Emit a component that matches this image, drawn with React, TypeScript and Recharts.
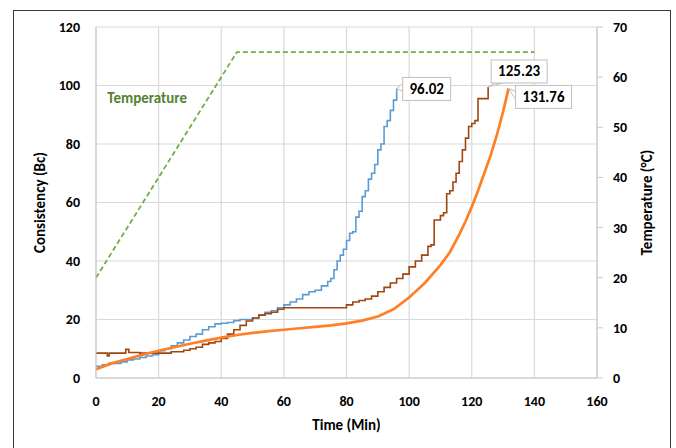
import React from 'react';
import { LineChart, Line, XAxis, YAxis, CartesianGrid, ReferenceDot } from 'recharts';

// time (min) / consistency (Bc) samples
const sampleA = [
  [0, 4], [2, 4.5], [4, 5], [6, 5], [8, 5.5], [10, 6.2], [12, 6.5], [14, 7], [16, 7.5], [18, 8],
  [20, 9.3], [22, 10], [24, 11], [26, 12], [28, 13], [30, 14.2], [32, 15], [34, 16.5], [36, 17.5],
  [38, 18.5], [40, 18.7], [42, 19], [44, 19.6], [46, 20], [48, 20], [50, 20.5], [52, 21.5],
  [54, 22.5], [56, 23], [58, 24], [60, 25], [62, 26], [64, 27], [66, 28.5], [68, 29.5], [70, 30],
  [72, 31.5], [74, 33], [75, 34], [76, 37], [77, 40], [78, 42], [79, 44], [80, 47], [81, 49.5],
  [82, 50], [83, 55], [84, 57], [85, 62], [86, 64], [87, 68], [88, 70], [89, 73], [90, 78],
  [91, 80], [92, 86], [93, 88], [94, 91.5], [95, 95], [96.02, 99],
];
const sampleB = [
  [0, 8.5], [2, 8.5], [3, 8.5], [3.6, 7.5], [4.2, 8.5], [8, 8.5], [9.5, 9.8], [10.5, 8.7], [14, 8.5],
  [20, 8.5], [22, 8.5], [24, 9], [26, 9], [28, 9.5], [30, 10], [32, 10.5], [34, 11.5], [36, 12],
  [38, 12.5], [40, 13.5], [42, 15], [44, 16.5], [46, 18], [48, 19.5], [50, 20.5], [52, 21.5],
  [54, 22], [56, 22.5], [58, 23.5], [60, 24], [79, 24], [80, 25], [82, 26], [84, 26.5], [86, 27],
  [88, 28], [90, 29.5], [92, 31], [94, 32.5], [96, 34], [98, 35.5], [100, 38], [102, 40],
  [104, 42], [106, 45], [107, 45.5], [108, 54], [110, 55.5], [111, 56.5], [112, 63], [113, 64],
  [114, 67], [115, 70], [116, 74], [117, 78], [118, 82], [119, 86], [120, 87], [121, 88],
  [122, 95.5], [124, 95.5], [125.23, 99.5],
];
const sampleC = [
  [0, 3], [5, 5], [10, 6.5], [15, 8], [20, 9.3], [25, 10.5], [30, 11.7], [35, 12.8], [40, 13.8],
  [45, 14.7], [50, 15.4], [55, 16], [60, 16.5], [65, 17], [70, 17.5], [75, 18], [80, 18.7],
  [85, 19.6], [90, 21], [95, 23.5], [100, 27.5], [105, 32.5], [110, 38.6], [113, 43], [116, 49],
  [118, 53.5], [120, 58.5], [122, 64], [124, 70], [126, 76], [128, 83], [130, 91], [131.76, 99],
];
// time (min) / temperature (°C)
const tempProfile = [[0, 20], [45, 65], [140, 65]];

const calloutText = ['96.02', '125.23', '131.76'];

const xTicks = [0, 20, 40, 60, 80, 100, 120, 140, 160];
const leftTicks = [0, 20, 40, 60, 80, 100, 120];
const rightTicks = [0, 10, 20, 30, 40, 50, 60, 70];

const toRows = (arr: number[][]) => arr.map(([t, v]) => ({ t, v }));

const FONT = 'Carlito, Lato, sans-serif';
const tickStyle = { fill: '#000', fontSize: 14, fontWeight: 700, fontFamily: FONT };

const makeCallout = (count: number, text: string, dx: number, dy: number, w: number) => (props: any) => {
  const { x, y, index } = props;
  if (index !== count - 1) return null;
  const bx = x + dx;
  const by = y + dy;
  const h = 23;
  const px = dx > 4 ? bx : bx + 4;
  const py = dy < -15 ? by + h : by + 6;
  return (
    <g>
      <polygon points={`${x},${y} ${px},${py} ${px + (dy < -15 ? 8 : 0)},${py + (dy < -15 ? 0 : 8)}`} fill="#fff" stroke="#bfbfbf" />
      <rect x={bx} y={by} width={w} height={h} fill="#fff" stroke="#bfbfbf" />
      <text x={bx + w / 2} y={by + h / 2 + 5} textAnchor="middle" fontSize={15} fontWeight={700} fontFamily={FONT} fill="#000">
        {text}
      </text>
    </g>
  );
};

export default function App() {
  return (
    <div style={{ position: 'absolute', left: 0, top: 0, width: 676, height: 448, overflow: 'hidden', background: '#fff' }}>
      <div style={{ position: 'absolute', left: 13, top: 10, width: 656, height: 470, border: '1.5px solid #3a3a3a' }} />
      <LineChart
        width={676}
        height={448}
        margin={{ top: 27, right: 19, left: 11, bottom: 12 }}
        style={{ position: 'absolute', left: 0, top: 0 }}
      >
        <CartesianGrid yAxisId="left" stroke="#d9d9d9" strokeWidth={1.2} />
        <XAxis
          dataKey="t"
          type="number"
          domain={[0, 160]}
          ticks={xTicks}
          height={58}
          tickLine={false}
          tickMargin={12}
          axisLine={{ stroke: '#c8c8c8' }}
          tick={tickStyle}
          label={{ value: 'Time (Min)', position: 'insideBottom', offset: 6, style: { ...tickStyle, fontSize: 15 } }}
        />
        <YAxis
          yAxisId="left"
          width={85}
          domain={[0, 120]}
          ticks={leftTicks}
          tickLine={false}
          tickMargin={10}
          axisLine={{ stroke: '#c8c8c8' }}
          tick={tickStyle}
          label={{ value: 'Consistency (Bc)', angle: -90, position: 'insideLeft', offset: 29, style: { ...tickStyle, fontSize: 15, textAnchor: 'middle' } }}
        />
        <YAxis
          yAxisId="right"
          orientation="right"
          width={60}
          domain={[0, 70]}
          ticks={rightTicks}
          tickLine={{ stroke: '#c8c8c8' }}
          tickMargin={10}
          axisLine={{ stroke: '#c8c8c8' }}
          tick={{ ...tickStyle, textAnchor: 'start' }}
          label={{ value: 'Temperature (°C)', angle: -90, position: 'insideRight', offset: 10, style: { ...tickStyle, fontSize: 15, textAnchor: 'middle' } }}
        />
        <Line
          yAxisId="right"
          data={toRows(tempProfile)}
          dataKey="v"
          stroke="#70ad47"
          strokeWidth={1.8}
          strokeDasharray="5 3"
          dot={false}
          isAnimationActive={false}
        />
        <Line
          yAxisId="left"
          type="stepAfter"
          data={toRows(sampleA)}
          dataKey="v"
          stroke="#5b9bd5"
          strokeWidth={1.6}
          dot={false}
          isAnimationActive={false}
          label={makeCallout(sampleA.length, calloutText[0], 6, -11, 48)}
        />
        <Line
          yAxisId="left"
          type="stepAfter"
          data={toRows(sampleB)}
          dataKey="v"
          stroke="#a0470f"
          strokeWidth={1.6}
          dot={false}
          isAnimationActive={false}
          label={makeCallout(sampleB.length, calloutText[1], 3, -27, 56)}
        />
        <Line
          yAxisId="left"
          data={toRows(sampleC)}
          dataKey="v"
          stroke="#ff7f27"
          strokeWidth={2.7}
          dot={false}
          isAnimationActive={false}
          label={makeCallout(sampleC.length, calloutText[2], 7, -3, 56)}
        />
        <ReferenceDot
          yAxisId="left"
          x={3.6}
          y={96}
          r={0}
          fill="none"
          stroke="none"
          label={{ value: 'Temperature', position: 'right', offset: 0, style: { fill: '#548235', fontSize: 15, fontWeight: 700, fontFamily: FONT } }}
        />
      </LineChart>
    </div>
  );
}
